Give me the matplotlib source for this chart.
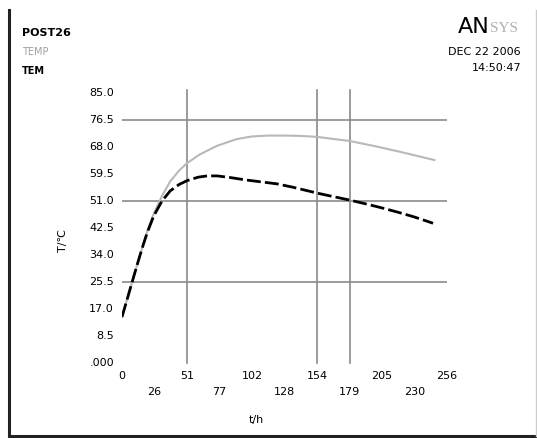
import numpy as np
import matplotlib
matplotlib.use("Agg")
import matplotlib.pyplot as plt
from matplotlib.lines import Line2D

# time values and the two temperature curves
t_black = [0, 4, 8, 12, 16, 20, 25, 31.5, 38, 45, 51.2, 60, 67, 75, 85, 98, 110, 122, 135, 153.6, 165, 179.2, 192, 205, 218, 230, 245]
temp_black = [14.5, 20.0, 25.5, 31.0, 36.3, 41.2, 46.3, 51.0, 54.2, 56.2, 57.4, 58.5, 58.9, 58.9, 58.4, 57.6, 57.0, 56.4, 55.3, 53.5, 52.5, 51.3, 50.1, 48.8, 47.4, 46.0, 44.0]

t_gray = [0, 4, 8, 12, 16, 20, 25, 31.5, 38, 45, 51.2, 61, 75, 90.5, 102, 115, 128, 140, 153.6, 165, 179.2, 200, 220, 246]
temp_gray = [14.5, 20.0, 25.5, 31.0, 36.4, 41.6, 47.0, 52.6, 57.2, 60.6, 62.9, 65.6, 68.4, 70.5, 71.3, 71.6, 71.6, 71.5, 71.2, 70.6, 69.9, 68.2, 66.4, 63.9]

x_ticks = [0, 25.6, 51.2, 76.8, 102.4, 128, 153.6, 179.2, 204.8, 230.4, 256]
x_labels = ["0", "26", "51", "77", "102", "128", "154", "179", "205", "230", "256"]
y_ticks = [0, 8.5, 17, 25.5, 34, 42.5, 51, 59.5, 68, 76.5, 85]
y_labels = [".000", "8.5", "17.0", "25.5", "34.0", "42.5", "51.0", "59.5", "68.0", "76.5", "85.0"]

W, H = 537, 438
fig = plt.figure(figsize=(W / 100, H / 100), dpi=100)
fig.patch.set_facecolor("white")

# plot region in pixels: x 122..447, y 93..363
ax = fig.add_axes([122 / W, 1 - 363 / H, (447 - 122) / W, (363 - 93) / H])
ax.set_xlim(0, 256)
ax.set_ylim(0, 85)
for s in ax.spines.values():
    s.set_visible(False)
ax.set_xticks([])
ax.set_yticks([])
ax.patch.set_alpha(0)

# only a few grid lines are drawn in the original
gcol = "#8a8a8a"
for yv in [25.5, 51, 76.5]:
    ax.axhline(yv, color=gcol, lw=1.2, zorder=1)
for xv in [51.2, 153.6, 179.2]:
    ax.plot([xv, xv], [0, 86], color=gcol, lw=1.2, zorder=1, clip_on=False)

ax.plot(t_gray, temp_gray, color="#b8b8b8", lw=1.5, zorder=2)
ax.plot(t_black, temp_black, color="black", lw=2.0, ls=(0, (5, 1.5)), zorder=3)

fs = 8
# x tick labels alternate between two rows
for i, (xv, lab) in enumerate(zip(x_ticks, x_labels)):
    ypx = 376 if i % 2 == 0 else 392
    ax.text(xv, -(ypx - 363) * 85 / 270, lab, fontsize=fs, ha="center", va="center",
            clip_on=False)
for yv, lab in zip(y_ticks, y_labels):
    ax.text(-8 * 256 / 325, yv, lab, fontsize=fs, ha="right", va="center", clip_on=False)

fig.text(256 / W, 1 - 420 / H, "t/h", fontsize=fs, ha="center", va="center")
fig.text(63 / W, 1 - 240 / H, "T/℃", fontsize=fs, ha="center", va="center", rotation=90)

# legend block top left
fig.text(22 / W, 1 - 33 / H, "POST26", fontsize=fs, ha="left", va="center", fontweight="bold")
fig.text(22 / W, 1 - 52 / H, "TEMP", fontsize=fs - 1, ha="left", va="center", color="#a0a0a0")
fig.text(22 / W, 1 - 71 / H, "TEM", fontsize=fs - 1, ha="left", va="center", fontweight="bold")

# logo and date top right
fig.text(490 / W, 1 - 27 / H, "AN", fontsize=16, ha="right", va="center")
fig.text(490 / W, 1 - 29 / H, "SYS", fontsize=11, ha="left", va="center", color="#b0b0b0",
         family="Liberation Serif")
fig.text(521 / W, 1 - 52 / H, "DEC 22 2006", fontsize=fs, ha="right", va="center")
fig.text(521 / W, 1 - 68 / H, "14:50:47", fontsize=fs, ha="right", va="center")

# outer frame: dark left and bottom, faint right
fig.add_artist(Line2D([9 / W, 9 / W], [1 - 10 / H, 1 - 436 / H], color="#222222", lw=2.2))
fig.add_artist(Line2D([9 / W, 536 / W], [1 - 436 / H, 1 - 436 / H], color="#222222", lw=2.2))
fig.add_artist(Line2D([535.5 / W, 535.5 / W], [1 - 10 / H, 1 - 436 / H], color="#cccccc", lw=1))

fig.savefig("out.png", dpi=100)
